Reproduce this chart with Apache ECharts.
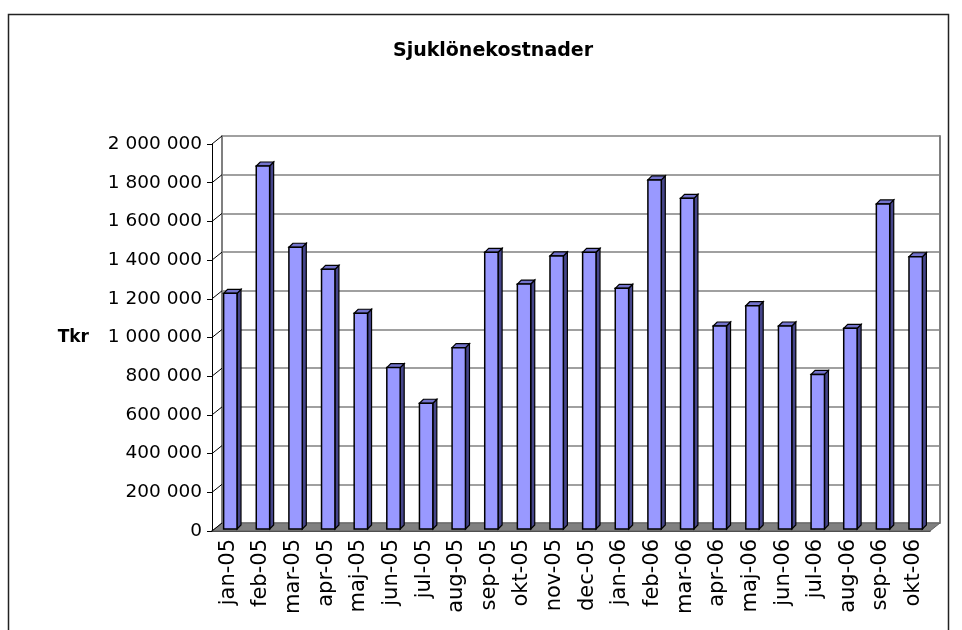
<!DOCTYPE html>
<html>
<head>
<meta charset="utf-8">
<title>Sjuklönekostnader</title>
<script src="https://cdn.jsdelivr.net/npm/echarts@6/dist/echarts.min.js"></script>
<style>
  html, body { margin: 0; padding: 0; background: #fff; }
  #chart { width: 962px; height: 630px; }
</style>
</head>
<body>
<div id="chart"></div>
<script>
const months = ['jan-05', 'feb-05', 'mar-05', 'apr-05', 'maj-05', 'jun-05', 'jul-05', 'aug-05',
  'sep-05', 'okt-05', 'nov-05', 'dec-05', 'jan-06', 'feb-06', 'mar-06', 'apr-06', 'maj-06',
  'jun-06', 'jul-06', 'aug-06', 'sep-06', 'okt-06'];
const costs = [1218000, 1876000, 1456000, 1342000, 1115000, 834000, 650000, 937000,
  1430000, 1266000, 1411000, 1430000, 1244000, 1804000, 1709000, 1049000, 1154000,
  1049000, 799000, 1037000, 1680000, 1407000];
const yTicks = [0, 200000, 400000, 600000, 800000, 1000000, 1200000, 1400000, 1600000, 1800000, 2000000];

// 3D look: wall depth and bar depth offsets (px)
const WALL = [10, -8];
const BAR_SHIFT = [2, -2];
const BAR_DEPTH = [4, -4];
const FONT = 'DejaVu Sans';

const fmt = v => String(v).replace(/\B(?=(\d{3})+(?!\d))/g, ' ');

const chart = echarts.init(document.getElementById('chart'));

const front = { left: 212, top: 144, width: 718, height: 387 };
const back = { left: front.left + WALL[0], top: front.top + WALL[1], width: front.width, height: front.height };

chart.setOption({
  animation: false,
  graphic: [
    { type: 'rect', shape: { x: 8.5, y: 14.5, width: 940, height: 700 },
      style: { fill: null, stroke: '#222', lineWidth: 1.5 }, z: 0 },
    { type: 'text', x: 493, y: 51,
      style: { text: 'Sjuklönekostnader', font: 'bold 19px "DejaVu Sans"', fill: '#000',
        textAlign: 'center', textVerticalAlign: 'middle' } }
  ],
  grid: [
    Object.assign({ containLabel: false }, back),
    Object.assign({ containLabel: false }, front)
  ],
  xAxis: [
    { gridIndex: 0, type: 'category', data: months, show: false },
    { gridIndex: 1, type: 'category', data: months,
      axisLine: { lineStyle: { color: '#000', width: 1.5 } },
      axisTick: { length: 5, lineStyle: { color: '#000' } },
      axisLabel: { rotate: 90, interval: 0, margin: 8, color: '#000', fontSize: 21, fontFamily: FONT },
      splitLine: { show: false } }
  ],
  yAxis: [
    { gridIndex: 0, type: 'value', min: 0, max: 2000000, interval: 200000,
      axisLine: { show: true, lineStyle: { color: '#808080', width: 2 } },
      axisTick: { show: false }, axisLabel: { show: false },
      splitLine: { lineStyle: { color: '#808080', width: 1.5 } } },
    { gridIndex: 0, type: 'value', position: 'right', min: 0, max: 2000000, interval: 200000,
      axisLine: { show: true, lineStyle: { color: '#808080', width: 2 } },
      axisTick: { show: false }, axisLabel: { show: false }, splitLine: { show: false } },
    { gridIndex: 1, type: 'value', min: 0, max: 2000000, interval: 200000,
      name: 'Tkr', nameLocation: 'middle', nameRotate: 0, nameGap: 123,
      nameTextStyle: { color: '#000', fontWeight: 'bold', fontSize: 17, fontFamily: FONT,
        align: 'right', verticalAlign: 'middle', padding: [0, 0, 8, 0] },
      axisLine: { show: true, lineStyle: { color: '#000', width: 1 } },
      axisTick: { show: true, length: 5, lineStyle: { color: '#000' } },
      axisLabel: { margin: 10, color: '#000', fontSize: 18.5, fontFamily: FONT, formatter: fmt },
      splitLine: { show: false } }
  ],
  series: [
    {
      // floor and left-wall tick connectors
      type: 'custom', xAxisIndex: 1, yAxisIndex: 2, z: 1, silent: true,
      data: [[0, 0]],
      renderItem(params, api) {
        const cs = params.coordSys;
        const bottom = cs.y + cs.height;
        const children = [{
          type: 'polygon',
          shape: { points: [[cs.x, bottom], [cs.x + cs.width, bottom],
            [cs.x + cs.width + WALL[0], bottom + WALL[1]], [cs.x + WALL[0], bottom + WALL[1]]] },
          style: { fill: '#808080', stroke: '#606060', lineWidth: 1 }
        }];
        yTicks.forEach(t => {
          const y = api.coord([0, t])[1];
          children.push({
            type: 'line',
            shape: { x1: cs.x, y1: y, x2: cs.x + WALL[0], y2: y + WALL[1] },
            style: { stroke: '#000', lineWidth: 1 }
          });
        });
        return { type: 'group', children };
      }
    },
    {
      type: 'custom', xAxisIndex: 1, yAxisIndex: 2, z: 3,
      data: costs.map((v, i) => [i, v]),
      renderItem(params, api) {
        const top = api.coord([api.value(0), api.value(1)]);
        const base = api.coord([api.value(0), 0]);
        const w = api.size([1, 0])[0] * 0.41;
        const x0 = top[0] - w / 2 + BAR_SHIFT[0];
        const x1 = x0 + w;
        const yT = top[1] + BAR_SHIFT[1];
        const yB = base[1] + BAR_SHIFT[1];
        const [dx, dy] = BAR_DEPTH;
        return {
          type: 'group',
          children: [
            { type: 'polygon',
              shape: { points: [[x1, yB], [x1 + dx, yB + dy], [x1 + dx, yT + dy], [x1, yT]] },
              style: { fill: '#45458a', stroke: '#000', lineWidth: 1.2 } },
            { type: 'polygon',
              shape: { points: [[x0, yT], [x1, yT], [x1 + dx, yT + dy], [x0 + dx, yT + dy]] },
              style: { fill: '#7373cc', stroke: '#000', lineWidth: 1.2 } },
            { type: 'rect',
              shape: { x: x0, y: yT, width: w, height: yB - yT },
              style: { fill: '#9999ff', stroke: '#000', lineWidth: 1.5 } }
          ]
        };
      }
    }
  ]
});
</script>
</body>
</html>
